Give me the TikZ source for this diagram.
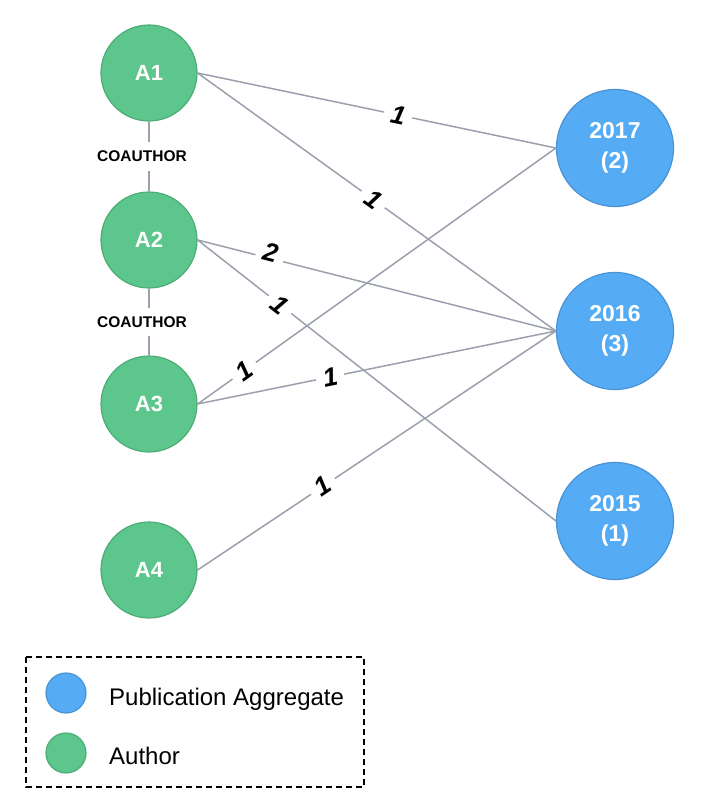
\documentclass[tikz,border=0pt]{standalone}
\usepackage{fontspec}
\setmainfont{Liberation Sans}
\definecolor{authorfill}{RGB}{92,198,140}
\definecolor{authordraw}{RGB}{78,172,118}
\definecolor{aggfill}{RGB}{85,172,245}
\definecolor{aggdraw}{RGB}{72,146,212}
\definecolor{linkgray}{RGB}{155,160,174}
\tikzset{
  author/.style = {circle, draw=authordraw, fill=authorfill, line width=1.2pt,
                   minimum size=96pt, inner sep=0, text=white,
                   font=\fontsize{22}{26}\selectfont\bfseries},
  aggregate/.style = {circle, draw=aggdraw, fill=aggfill, line width=1.2pt,
                   minimum size=117pt, inner sep=0, text=white, align=center,
                   font=\fontsize{23}{30}\selectfont\bfseries},
  link/.style = {draw=linkgray, line width=1.5pt},
  weight/.style = {fill=white, sloped, inner sep=7pt,
                   font=\fontsize{26}{26}\selectfont\bfseries\itshape},
  coauthor/.style = {fill=white, inner xsep=2pt, inner ysep=9pt,
                   font=\fontsize{15.5}{16}\selectfont\bfseries},
  legend dot/.style = {circle, line width=1.2pt, minimum size=40pt, inner sep=0},
  legend text/.style = {anchor=base west, inner sep=0,
                   font=\fontsize{24}{28}\selectfont},
}
\begin{document}
\begin{tikzpicture}[x=1pt,y=-1pt]
\useasboundingbox (0,0) rectangle (720,806);
% authors
\node[author] (A1) at (149,73)  {A1};
\node[author] (A2) at (149,240) {A2};
\node[author] (A3) at (149,404) {A3};
\node[author] (A4) at (149,570) {A4};
% publication aggregates
\node[aggregate] (Y2017) at (615,148) {2017\\(2)};
\node[aggregate] (Y2016) at (615,331) {2016\\(3)};
\node[aggregate] (Y2015) at (615,521) {2015\\(1)};
% coauthor links
\path[link] (A1.south) edge node[coauthor,xshift=-7pt] {COAUTHOR} (A2.north)
            (A2.south) edge node[coauthor,xshift=-7pt] {COAUTHOR} (A3.north);
% author -> year links
\path[link] (A1.east) edge node[weight,pos=0.56] {1} (Y2017.west)
                      edge node[weight,pos=0.49] {1} (Y2016.west)
            (A2.east) edge node[weight,pos=0.2,yshift=6pt] {2} (Y2016.west)
                      edge node[weight,pos=0.23] {1} (Y2015.west)
            (A3.east) edge node[weight,pos=0.13] {1} (Y2017.west)
                      edge node[weight,pos=0.37] {1} (Y2016.west)
            (A4.east) edge node[weight,pos=0.35] {1} (Y2016.west);
% legend
\draw[line width=1.3pt, dash pattern=on 6pt off 4pt] (26,657) rectangle (364,787);
\node[legend dot, draw=aggdraw, fill=aggfill] (Lagg) at (66,693) {};
\node[legend dot, draw=authordraw, fill=authorfill] (Lauthor) at (66,753) {};
\node[legend text] (Taggl) at (109,705) {Publication Aggregate};
\node[legend text] (Tauthor) at (109,764) {Author};
\end{tikzpicture}
\end{document}
